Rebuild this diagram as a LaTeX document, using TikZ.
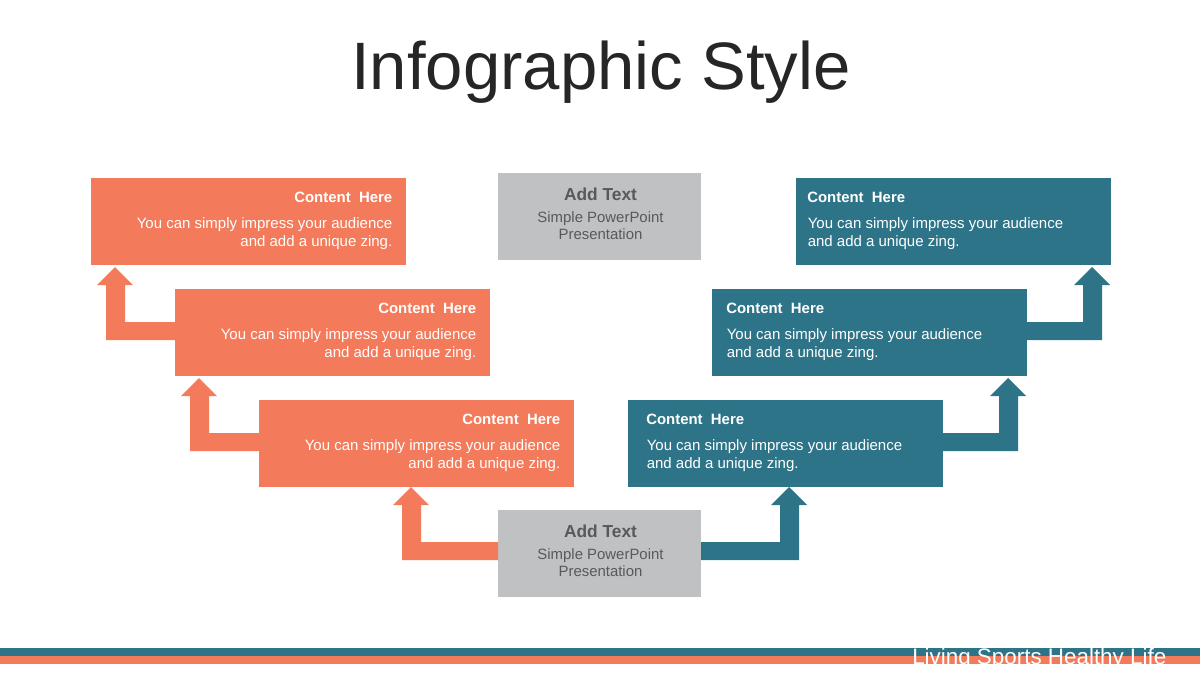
\documentclass[tikz,border=0pt]{standalone}
\usepackage{fontspec}
\setmainfont{Liberation Sans}
\usetikzlibrary{calc}
\definecolor{corange}{HTML}{F37A5A}
\definecolor{cteal}{HTML}{2E7488}
\definecolor{cgray}{HTML}{C0C1C3}
\definecolor{cgtext}{HTML}{595959}
\definecolor{ctitle}{HTML}{262626}
\tikzset{
 cbox/.style={inner sep=0pt, outer sep=0pt, minimum width=236.25pt, minimum height=65.25pt, anchor=north west},
 obox/.style={cbox, fill=corange},
 tbox/.style={cbox, fill=cteal},
 gbox/.style={inner sep=0pt, outer sep=0pt, minimum width=152.25pt, minimum height=65.25pt, anchor=north west, fill=cgray},
 chead/.style={inner sep=0pt, text=white, font=\bfseries\fontsize{11.2}{13}\selectfont},
 cline/.style={inner sep=0pt, text=white, font=\fontsize{11.25}{13.5}\selectfont},
 ghead/.style={inner sep=0pt, text=cgtext, font=\bfseries\fontsize{13}{15}\selectfont, anchor=base},
 gline/.style={inner sep=0pt, text=cgtext, font=\fontsize{11.2}{13}\selectfont, anchor=base},
 oarrow/.style={fill=corange},
 tarrow/.style={fill=cteal},
}
\begin{document}
\begin{tikzpicture}[x=0.75pt,y=-0.75pt]
\useasboundingbox (0,0) rectangle (1200,675);
\node[inner sep=0pt, text=ctitle, font=\fontsize{50.3}{56}\selectfont, anchor=base] (title) at (601,89) {Infographic Style};
% boxes
\node[obox] (l1) at (91,178) {};
\node[obox] (l2) at (175,289) {};
\node[obox] (l3) at (259,400) {};
\node[tbox] (r1) at (796,178) {};
\node[tbox] (r2) at (712,289) {};
\node[tbox] (r3) at (628,400) {};
\node[gbox] (g1) at (498,173) {};
\node[gbox] (g2) at (498,510) {};
% texts
\foreach \b in {l1,l2,l3} {
  \node[chead, anchor=base east] (\b-h) at ($(\b.north east)+(-13.5,24.5)$) {Content\ \ Here};
  \node[cline, anchor=base east] (\b-a) at ($(\b.north east)+(-13.5,50.5)$) {You can simply impress your audience};
  \node[cline, anchor=base east] (\b-b) at ($(\b.north east)+(-13.5,68.5)$) {and add a unique zing.};
}
\foreach \b/\d in {r1/11,r2/14,r3/18} {
  \node[chead, anchor=base west] (\b-h) at ($(\b.north west)+(\d,24.5)$) {Content\ \ Here};
  \node[cline, anchor=base west] (\b-a) at ($(\b.north west)+(\d+0.5,50.5)$) {You can simply impress your audience};
  \node[cline, anchor=base west] (\b-b) at ($(\b.north west)+(\d+0.5,68.5)$) {and add a unique zing.};
}
\foreach \b in {g1,g2} {
  \node[ghead] (\b-h) at ($(\b.north)+(1,27.5)$) {Add Text};
  \node[gline] (\b-a) at ($(\b.north)+(1,49)$) {Simple PowerPoint};
  \node[gline] (\b-b) at ($(\b.north)+(1,66.5)$) {Presentation};
}
% left arrows
\fill[oarrow] ($(l2.north west)+(0,33)$) -| ($(l1.south west)+(34,20)$) -- ++(8,0) -- ++(-18,-18) -- ++(-18,18) -- ++(9,0) |- ($(l2.north west)+(0,51)$) -- cycle;
\fill[oarrow] ($(l3.north west)+(0,33)$) -| ($(l2.south west)+(34,20)$) -- ++(8,0) -- ++(-18,-18) -- ++(-18,18) -- ++(9,0) |- ($(l3.north west)+(0,51)$) -- cycle;
\fill[oarrow] ($(g2.north west)+(0,32)$) -| ($(l3.south west)+(162,18)$) -- ++(8,0) -- ++(-18,-18) -- ++(-18,18) -- ++(9,0) |- ($(g2.north west)+(0,50)$) -- cycle;
% right arrows
\fill[tarrow] ($(r2.north east)+(0,33)$) -| ($(r1.south east)+(-28,20)$) -- ++(-9,0) -- ++(18,-18) -- ++(18,18) -- ++(-8,0) |- ($(r2.north east)+(0,51)$) -- cycle;
\fill[tarrow] ($(r3.north east)+(0,33)$) -| ($(r2.south east)+(-28,20)$) -- ++(-9,0) -- ++(18,-18) -- ++(18,18) -- ++(-8,0) |- ($(r3.north east)+(0,51)$) -- cycle;
\fill[tarrow] ($(g2.north east)+(0,32)$) -| ($(r3.south west)+(152,18)$) -- ++(-9,0) -- ++(18,-18) -- ++(18,18) -- ++(-8,0) |- ($(g2.north east)+(0,50)$) -- cycle;
% footer
\fill[cteal] (0,648) rectangle (1200,656);
\fill[corange] (0,656) rectangle (1200,664);
\node[inner sep=0pt, text=white, font=\fontsize{16.8}{18}\selectfont, anchor=base west] (foot) at (912,664) {Living Sports Healthy Life};
\end{tikzpicture}
\end{document}
